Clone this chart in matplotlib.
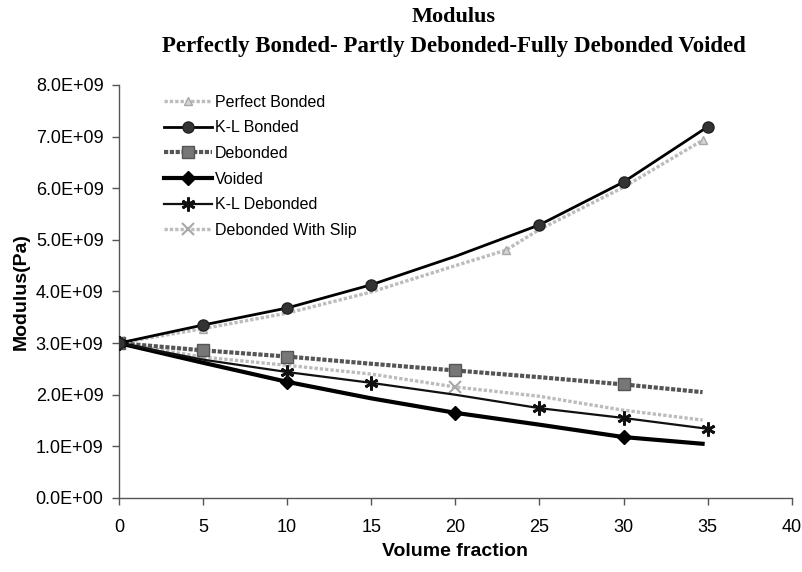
import matplotlib
matplotlib.use('Agg')
import matplotlib.pyplot as plt
from matplotlib.ticker import FuncFormatter, MultipleLocator

plt.rcParams['font.family'] = ['Liberation Sans', 'DejaVu Sans']

# volume fraction (%) vs modulus (Pa)
x_full = [0, 5, 10, 15, 20, 25, 30, 35]
x_short = [0, 5, 10, 15, 20, 25, 30, 34.7]

perfect_x = [0, 5, 10, 15, 20, 23, 25, 30, 34.7]
perfect_bonded = [3.0e9, 3.28e9, 3.58e9, 3.99e9, 4.5e9, 4.8e9, 5.2e9, 6.02e9, 6.93e9]
kl_bonded = [3.0e9, 3.35e9, 3.68e9, 4.13e9, 4.68e9, 5.29e9, 6.12e9, 7.19e9]
debonded = [3.0e9, 2.86e9, 2.74e9, 2.60e9, 2.47e9, 2.34e9, 2.20e9, 2.05e9]
voided = [3.0e9, 2.62e9, 2.25e9, 1.93e9, 1.65e9, 1.42e9, 1.18e9, 1.05e9]
kl_debonded = [3.0e9, 2.68e9, 2.44e9, 2.23e9, 2.0e9, 1.74e9, 1.55e9, 1.34e9]
debonded_slip = [3.0e9, 2.73e9, 2.57e9, 2.40e9, 2.15e9, 1.97e9, 1.70e9, 1.51e9]

fig = plt.figure(figsize=(8.03, 5.72), dpi=100)
ax = fig.add_axes([0.148, 0.1294, 0.838, 0.722])

ax.plot(perfect_x, perfect_bonded, color='#bcbcbc', lw=2.4, ls=(0, (1, 0.6)),
        marker='^', ms=6, mfc='#d4d4d4', mec='#a8a8a8', markevery=[0, 1, 5, 8],
        label='Perfect Bonded', zorder=2)
ax.plot(x_full, kl_bonded, color='black', lw=2, marker='o', ms=8,
        mfc='#333333', mec='#222222', markevery=[0, 1, 2, 3, 5, 6, 7],
        label='K-L Bonded', zorder=5)
ax.plot(x_short, debonded, color='#555555', lw=3, ls=(0, (1, 0.4)),
        marker='s', ms=8, mfc='#777777', mec='#555555', markevery=[0, 1, 2, 4, 6],
        label='Debonded', zorder=3)
ax.plot(x_short, voided, color='black', lw=3, marker='D', ms=7,
        mfc='black', mec='black', markevery=[0, 2, 4, 6],
        label='Voided', zorder=4)
ax.plot(x_full, kl_debonded, color='#111111', lw=1.6, marker=(6, 2, 0), ms=10,
        mew=2, mec='#111111', markevery=[0, 2, 3, 5, 6, 7],
        label='K-L Debonded', zorder=4)
ax.plot(x_short, debonded_slip, color='#bcbcbc', lw=2.4, ls=(0, (1, 0.6)),
        marker='x', ms=8, mew=1.5, mec='#a8a8a8', markevery=[0, 1, 4],
        label='Debonded With Slip', zorder=2)

ax.set_xlim(0, 40)
ax.set_ylim(0, 8e9)
ax.xaxis.set_major_locator(MultipleLocator(5))
ax.yaxis.set_major_locator(MultipleLocator(1e9))


def sci_fmt(v, pos):
    s = f'{v:.1E}'
    mant, exp = s.split('E')
    return f'{mant}E{exp[0]}{int(exp[1:]):02d}'


ax.yaxis.set_major_formatter(FuncFormatter(sci_fmt))

for side in ['top', 'right']:
    ax.spines[side].set_visible(False)
for side in ['left', 'bottom']:
    ax.spines[side].set_color('#555555')
    ax.spines[side].set_linewidth(1)
ax.tick_params(axis='both', direction='out', length=5, width=1, color='#555555')
ax.tick_params(axis='y', labelsize=13, pad=6)
ax.tick_params(axis='x', labelsize=13, pad=10)
for lab in ax.get_xticklabels():
    lab.set_family(['Liberation Sans Narrow', 'Liberation Sans', 'DejaVu Sans'])
    lab.set_fontsize(13)

ax.set_xlabel('Volume fraction', fontsize=14, fontweight='bold', labelpad=5)
ax.set_ylabel('Modulus(Pa)', fontsize=14, fontweight='bold', labelpad=4)

fig.text(0.565, 0.988, 'Modulus', ha='center', va='top',
         family=['Liberation Serif', 'DejaVu Serif'], fontsize=16, fontweight='bold')
fig.text(0.565, 0.937, 'Perfectly Bonded- Partly Debonded-Fully Debonded Voided',
         ha='center', va='top', family=['Liberation Serif', 'DejaVu Serif'],
         fontsize=16.5, fontweight='bold')

ax.legend(loc='upper left', bbox_to_anchor=(0.05, 1.003), frameon=False,
          fontsize=11.5, handlelength=3.0, handletextpad=0.2, labelspacing=0.66,
          borderaxespad=0.3)

fig.savefig('out.png', dpi=100, facecolor='white')
